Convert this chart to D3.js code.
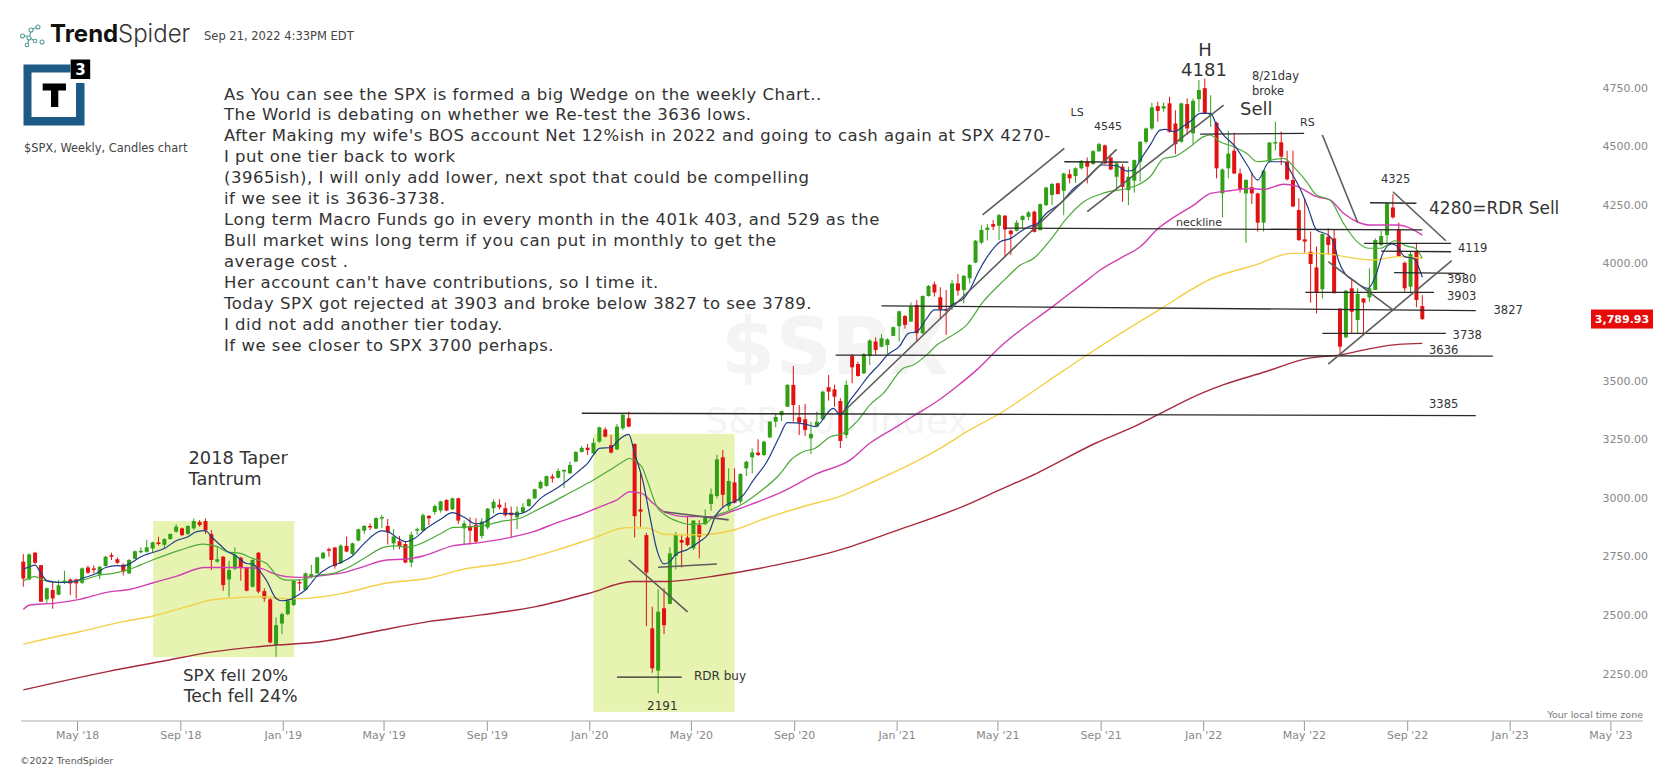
<!DOCTYPE html>
<html><head><meta charset="utf-8">
<script src="https://cdnjs.cloudflare.com/ajax/libs/d3/7.8.5/d3.min.js"></script>
<style>html,body{margin:0;padding:0;background:#fff;overflow:hidden}svg{display:block}text{font-family:"DejaVu Sans",sans-serif}</style>
</head><body><svg id="c" width="1673" height="770"></svg>
<script>
// weekly candles: [open, high, low, close], one row per week, first week 2018-02-26
const candles2018 = [[2755,2787,2648,2683],[2679,2790,2676,2786],[2793,2797,2745,2750],[2740,2740,2584,2584],[2594,2645,2577,2641],[2634,2669,2554,2598],[2614,2676,2612,2654],[2668,2716,2659,2674],[2679,2683,2612,2662],[2679,2683,2597,2662],[2665,2730,2659,2726],[2730,2738,2702,2708],[2726,2739,2705,2722],[2699,2736,2681,2733],[2736,2779,2736,2776],[2783,2793,2762,2776],[2765,2773,2745,2750],[2742,2747,2696,2712],[2705,2766,2701,2762],[2767,2803,2765,2799],[2796,2816,2790,2801],[2797,2847,2793,2816],[2811,2840,2796,2837],[2837,2861,2824,2830],[2827,2856,2811,2851],[2851,2875,2850,2873],[2883,2915,2878,2904],[2897,2900,2864,2868],[2873,2910,2868,2907],[2897,2939,2890,2928],[2924,2932,2904,2911],[2928,2939,2873,2890],[2873,2890,2719,2762],[2755,2819,2750,2765],[2776,2779,2631,2655],[2679,2759,2605,2719],[2725,2816,2719,2783],[2772,2776,2674,2730],[2730,2733,2628,2631],[2648,2765,2645,2762],[2793,2797,2620,2627],[2629,2641,2584,2598],[2594,2602,2406,2410],[2399,2517,2349,2484],[2491,2537,2446,2531]];
const candles2019 = [[2531,2598,2527,2588],[2570,2676,2565,2673],[2668,2680,2630,2664],[2634,2709,2634,2705],[2690,2741,2684,2702],[2705,2776,2702,2773],[2769,2796,2766,2793],[2808,2815,2776,2805],[2815,2818,2725,2736],[2748,2829,2744,2823],[2822,2862,2795,2798],[2788,2836,2783,2833],[2845,2896,2842,2893],[2887,2911,2873,2907],[2907,2918,2890,2901],[2896,2944,2893,2941],[2940,2954,2899,2945],[2907,2937,2828,2879],[2833,2893,2805,2862],[2842,2864,2808,2822],[2830,2839,2748,2751],[2751,2883,2731,2870],[2888,2900,2870,2894],[2887,2961,2884,2953],[2950,2954,2911,2940],[2967,2998,2955,2992],[2973,3015,2964,3012],[3018,3021,2970,2973],[2978,3028,2975,3025],[3025,3028,2916,2930],[2897,2930,2826,2918],[2907,2944,2828,2887],[2911,2940,2833,2840],[2864,2940,2854,2926],[2901,2984,2893,2981],[2983,3021,2961,3010],[2998,3021,2978,2987],[2983,3007,2947,2953],[2964,2990,2859,2953],[2944,2990,2893,2968],[2964,3004,2961,2987],[2992,3025,2990,3021],[3025,3066,3021,3064],[3068,3101,3064,3095],[3078,3122,3075,3120],[3118,3129,3092,3110],[3113,3153,3110,3142],[3140,3149,3069,3146],[3132,3182,3129,3167],[3182,3226,3179,3223],[3223,3248,3220,3240],[3241,3257,3210,3231]];
const candles2020 = [[3217,3281,3214,3262],[3267,3331,3262,3328],[3319,3328,3285,3288],[3252,3295,3217,3220],[3234,3342,3231,3331],[3324,3386,3316,3381],[3367,3395,3328,3331],[3257,3259,2858,2949],[2978,3139,2904,2968],[2868,2878,2480,2708],[2470,2563,2281,2300],[2290,2637,2193,2541],[2556,2641,2446,2484],[2574,2816,2574,2790],[2779,2881,2722,2868],[2847,2868,2730,2836],[2858,2949,2821,2826],[2812,2932,2804,2930],[2911,2932,2769,2861],[2915,2978,2911,2949],[3001,3067,2972,3043],[3035,3210,3025,3191],[3200,3231,2986,3040],[2992,3153,2975,3099],[3093,3153,3003,3006],[3011,3132,3003,3129],[3153,3186,3120,3181],[3200,3238,3131,3221],[3220,3277,3205,3210],[3210,3271,3205,3267],[3285,3355,3281,3352],[3352,3388,3328,3372],[3380,3399,3355,3397],[3416,3512,3415,3509],[3509,3590,3352,3423],[3371,3423,3295,3348],[3362,3428,3291,3317],[3281,3352,3214,3300],[3331,3395,3328,3352],[3362,3485,3359,3480],[3499,3551,3442,3480],[3490,3509,3416,3459],[3440,3452,3239,3270],[3295,3527,3281,3509],[3632,3641,3516,3584],[3598,3608,3544,3547],[3558,3644,3556,3641],[3632,3704,3594,3698],[3694,3712,3637,3658],[3672,3726,3669,3708],[3679,3708,3641,3703],[3718,3758,3718,3755]];
const candles2021 = [[3760,3826,3694,3823],[3803,3807,3749,3765],[3779,3861,3779,3843],[3850,3871,3694,3729],[3729,3891,3726,3888],[3888,3935,3886,3931],[3938,3950,3886,3903],[3883,3925,3793,3829],[3832,3914,3722,3826],[3846,3957,3829,3942],[3942,3982,3890,3911],[3914,3978,3857,3974],[3964,4024,3942,4021],[4031,4127,4028,4124],[4116,4190,4110,4170],[4170,4195,4125,4180],[4195,4212,4169,4184],[4188,4238,4127,4233],[4231,4233,4056,4172],[4167,4172,4063,4152],[4167,4212,4164,4201],[4212,4233,4177,4229],[4226,4250,4212,4245],[4248,4252,4159,4162],[4169,4283,4169,4280],[4276,4354,4272,4351],[4319,4371,4276,4366],[4369,4371,4322,4323],[4337,4414,4233,4411],[4408,4428,4369,4390],[4400,4437,4371,4433],[4433,4468,4428,4465],[4461,4479,4369,4440],[4451,4511,4448,4506],[4506,4542,4502,4536],[4531,4534,4451,4454],[4479,4489,4425,4428],[4397,4461,4347,4454],[4440,4451,4290,4354],[4340,4440,4276,4397],[4380,4471,4329,4468],[4461,4549,4376,4546],[4546,4607,4539,4603],[4603,4713,4596,4693],[4698,4717,4632,4678],[4688,4714,4674,4698],[4710,4738,4585,4589],[4624,4681,4494,4536],[4546,4713,4542,4710],[4707,4731,4575,4603],[4582,4731,4532,4721],[4728,4809,4674,4767]];
const candles2022 = [[4775,4816,4667,4667],[4660,4745,4610,4668],[4627,4632,4390,4433],[4326,4432,4223,4428],[4433,4593,4390,4496],[4508,4585,4408,4411],[4411,4432,4329,4343],[4326,4386,4115,4383],[4352,4415,4281,4326],[4326,4329,4163,4201],[4201,4426,4163,4423],[4462,4545,4457,4543],[4540,4632,4509,4545],[4544,4590,4447,4483],[4462,4508,4381,4386],[4383,4508,4267,4270],[4255,4305,4123,4127],[4130,4305,4073,4120],[4077,4163,3860,4025],[4010,4099,3814,3902],[3917,4155,3878,4153],[4141,4177,4063,4106],[4134,4170,3900,3900],[3835,3835,3636,3672],[3712,3914,3708,3911],[3921,3959,3729,3821],[3786,3921,3729,3897],[3878,3878,3729,3860],[3882,4006,3864,3921],[3914,4134,3914,4127],[4106,4167,4101,4144],[4148,4286,4110,4283],[4266,4323,4218,4224],[4173,4201,4056,4059],[4030,4035,3907,3921],[3928,4077,3900,4067],[4077,4116,3840,3871],[3845,3892,3786,3789.93]];

// moving averages: [week number, price]
const maNavy = [[0,2723],[1,2733],[2,2740],[3,2705],[4,2674],[5,2669],[7,2666],[9,2672],[10,2683],[12.5,2705],[14,2730],[16,2738],[17,2736],[18,2745],[20,2776],[22,2794],[24,2811],[26,2844],[28,2861],[29.5,2883],[31,2887],[32,2861],[33.5,2826],[34.5,2802],[36,2783],[38,2747],[39,2745],[40,2722],[41.5,2669],[43,2598],[44,2588],[45.5,2594],[46.5,2608],[48,2634],[50,2694],[52,2731],[54,2751],[56,2779],[58,2833],[61,2886],[62,2883],[63.5,2859],[65,2840],[66.6,2855],[68.6,2897],[71,2936],[73,2964],[75,2944],[77,2916],[78,2919],[80,2947],[81,2961],[84,2958],[86,2975],[88,3025],[91,3072],[93,3110],[94.7,3146],[96,3174],[97,3210],[98,3238],[100,3242],[101,3267],[102,3288],[103,3298],[104,3217],[105.5,3089],[106.6,2947],[107.8,2804],[109,2745],[110,2755],[111,2786],[113,2807],[115,2840],[116.6,2876],[117.7,2947],[118.8,2982],[120,3003],[121,3011],[122.5,3039],[124.2,3103],[126.5,3181],[128.5,3281],[130,3348],[133,3342],[134.7,3331],[137.8,3409],[139,3381],[140.7,3445],[142,3487],[143.8,3547],[145.8,3601],[147,3637],[149,3672],[150.6,3729],[152,3736],[153.7,3793],[155,3829],[157,3829],[158.2,3854],[160,3878],[161,3914],[162.5,3992],[164,4056],[166.2,4120],[168,4134],[169.6,4162],[171,4184],[172.4,4195],[174,4240],[176.4,4283],[178.7,4347],[181,4390],[183.5,4447],[186,4444],[187.8,4421],[189,4428],[190,4468],[191.7,4532],[193.4,4596],[194.3,4599],[195.7,4589],[197.4,4613],[198.8,4639],[200.2,4667],[202,4667],[203,4617],[204.2,4575],[206.2,4525],[208.2,4447],[210,4383],[212,4461],[214.4,4461],[215.8,4411],[217.2,4347],[218.6,4262],[220,4170],[222,4148],[222.9,4120],[223.7,4042],[224.9,3982],[226.3,3954],[228.8,3921],[230,3971],[231.4,4077],[232.8,4110],[233.7,4101],[235,4056],[236.5,4049],[238,3968]];
const maGreen = [[0,2672],[2,2691],[3.4,2676],[5.7,2666],[10,2676],[13,2698],[15.3,2705],[18,2722],[22,2762],[26.7,2804],[30.6,2830],[33,2819],[34.6,2797],[36.9,2790],[39,2769],[41.4,2747],[43,2698],[44.8,2676],[47,2677],[50.5,2698],[52.8,2705],[55.6,2734],[58.4,2776],[61.3,2816],[63.5,2822],[65.2,2816],[68,2836],[70.9,2873],[73.2,2901],[76.6,2904],[78.8,2911],[81.1,2926],[84.5,2940],[86.8,2968],[90.2,3011],[93,3049],[97,3103],[99.8,3146],[102,3181],[103,3195],[105.2,3160],[106.3,3089],[107.8,2989],[109.2,2954],[111.5,2925],[113.4,2914],[116,2918],[117.4,2947],[119.7,2968],[122.5,3003],[125.3,3053],[128.8,3131],[130.7,3192],[132.7,3224],[134.7,3239],[137.3,3288],[139.5,3303],[141.8,3352],[144,3423],[146.3,3473],[149.7,3580],[151.4,3594],[153.7,3637],[155.4,3679],[157.7,3715],[160.5,3765],[163.3,3864],[167,3959],[169.6,4020],[171.9,4049],[174.7,4127],[177.5,4219],[180.4,4290],[184,4329],[187.8,4347],[189.5,4361],[191.7,4397],[194,4475],[196,4485],[198.5,4525],[200.8,4568],[201.9,4575],[203.6,4546],[205.9,4525],[208.1,4497],[210,4461],[214.4,4475],[216.6,4426],[218.3,4376],[220,4319],[222.3,4298],[224.6,4198],[226.9,4120],[228.8,4092],[230.8,4092],[233.4,4124],[235.4,4101],[236.8,4092],[238,4049]];
const maMagenta = [[0,2551],[1.1,2570],[5.1,2577],[9.6,2594],[14.2,2624],[18.2,2637],[22.1,2665],[26.1,2693],[30.9,2730],[36.3,2730],[40.3,2726],[42.5,2705],[44.8,2691],[47,2688],[50.5,2695],[54.5,2708],[57.9,2734],[61.8,2762],[65.2,2766],[68,2779],[73.2,2823],[77.7,2836],[82.2,2855],[86.8,2883],[91.3,2926],[94.7,2954],[98.1,2989],[101,3018],[103.2,3053],[105.2,3046],[107.2,3003],[109.2,2965],[112.9,2947],[117.4,2947],[120.8,2972],[124.2,3003],[128.8,3049],[135,3130],[140.7,3189],[144,3260],[148.6,3331],[152,3385],[155.4,3438],[158.8,3502],[162.2,3573],[166.2,3672],[175.1,3843],[181,3956],[183.2,3999],[186.6,4049],[190,4098],[193.1,4177],[196.3,4233],[199.1,4276],[202,4326],[205.3,4337],[208.7,4347],[211,4343],[214.4,4365],[216.6,4357],[220,4312],[222.3,4298],[224.6,4241],[226.9,4205],[229.1,4191],[233.7,4191],[236,4177],[238,4148]];
const maYellow = [[0,2403],[3.4,2423],[9.6,2456],[17,2499],[22.1,2523],[27.8,2563],[31.8,2591],[36.3,2601],[40.5,2605],[44.8,2597],[47,2597],[54.4,2620],[61.6,2663],[68.9,2684],[74.4,2720],[83.5,2755],[90.8,2805],[97,2855],[102.6,2900],[106.3,2898],[109,2872],[114.5,2869],[120.9,2890],[126.3,2940],[132.7,2990],[138.9,3033],[145,3100],[152.6,3192],[156.5,3246],[161,3317],[166.2,3388],[173.8,3516],[181.4,3644],[193.2,3829],[202.3,3964],[209.5,4020],[215.8,4070],[220.3,4070],[229.4,4042],[233.9,4056],[238,4049]];
const maRed = [[0,2208],[14.3,2286],[23.4,2329],[32.5,2371],[41.6,2396],[50.8,2414],[59.8,2457],[68.9,2499],[78,2528],[87.2,2563],[96.3,2620],[103.6,2670],[109,2670],[118.2,2696],[128.2,2741],[138.9,2805],[148,2883],[159.8,2990],[166.1,3061],[172.4,3132],[182.4,3260],[189.6,3338],[193.2,3384],[200.4,3473],[204.1,3509],[211.3,3565],[218.5,3622],[224,3637],[229.4,3665],[233.9,3682],[238,3686]];

// drawn levels and trendlines: [week, price, week, price]
const levelLines = [[146,3846,247.1,3826],[138.2,3636,250,3632],[167,4178,238,4170],[177.1,4461,188,4459],[200.2,4579,217.9,4582],[229.1,4286,237,4284],[228.1,4113,242.9,4113],[231,4080,242.9,4077],[233.2,3988,245.2,3985],[218.1,3904,240,3904],[221,3729,242,3729],[95,3388,247.1,3378],[101,2262,112,2262]];
const trendLines = [[163.2,4234,177.1,4518],[139.3,3389,186,4514],[181,4248,204.2,4703],[221,4575,227,4203],[233,4333,242,4124],[222,4035,233,3829],[222,3598,243,4039],[103,2762,113,2541],[108,2731,118,2745],[109,2968,120,2933]];
// shaded zones: [week from, week to, price top, price bottom]
const zones = [[22.1,46.1,2928,2348],[97,121,3300,2114]];

const priceTicks = [4750,4500,4250,4000,3500,3250,3000,2750,2500,2250];
const monthTicks = ["2018-05-01","2018-09-01","2019-01-01","2019-05-01","2019-09-01","2020-01-01","2020-05-01","2020-09-01","2021-01-01","2021-05-01","2021-09-01","2022-01-01","2022-05-01","2022-09-01","2023-01-01","2023-05-01"];
const lastPrice = 3789.93;
const paragraph = ["As You can see the SPX is formed a big Wedge on the weekly Chart..","The World is debating on whether we Re-test the 3636 lows.","After Making my wife's BOS account Net 12%ish in 2022 and going to cash again at SPX 4270-","I put one tier back to work","(3965ish), I will only add lower, next spot that could be compelling","if we see it is 3636-3738.","Long term Macro Funds go in every month in the 401k 403, and 529 as the","Bull market wins long term if you can put in monthly to get the","average cost .","Her account can't have contributions, so I time it.","Today SPX got rejected at 3903 and broke below 3827 to see 3789.","I did not add another tier today.","If we see closer to SPX 3700 perhaps."];

const candles = [...candles2018,...candles2019,...candles2020,...candles2021,...candles2022];
const parse = d3.utcParse("%Y-%m-%d");
const firstWeek = parse("2018-02-26");
const weekDate = i => new Date(+firstWeek + i*7*864e5);
const x = d3.scaleUtc().domain([firstWeek, weekDate(238)]).range([23.3,1422.3]);
const y = d3.scaleLinear().domain([2250,4750]).range([680,94]);
const X = i => x(weekDate(i));

const svg = d3.select("#c");
const note = (t,px,py,size,fill="#333",anchor="start",extra={})=>{
  const n = svg.append("text").attr("x",px).attr("y",py).attr("dominant-baseline","middle").attr("text-anchor",anchor).attr("font-size",size).attr("fill",fill).text(t);
  Object.entries(extra).forEach(([k,v])=>n.attr(k,v)); return n;
};

// zones
svg.append("g").selectAll("rect").data(zones).join("rect")
  .attr("x",d=>X(d[0])).attr("width",d=>X(d[1])-X(d[0])).attr("y",d=>y(d[2])).attr("height",d=>y(d[3])-y(d[2])).attr("fill","#e6f3b1");

// watermark
note("$SPX",835,353,78,"#f4f4f4","middle",{"font-weight":"bold"});
note("S&P 500 Index",837,423,36,"#f4f4f4","middle");

const seg = (g,data,col,w)=>g.selectAll("line").data(data).join("line").attr("x1",d=>X(d[0])).attr("y1",d=>y(d[1])).attr("x2",d=>X(d[2])).attr("y2",d=>y(d[3])).attr("stroke",col).attr("stroke-width",w);

// candles
const cg = svg.append("g");
const col = d=>d[3]>=d[0]?"#31a014":"#e31212";
cg.selectAll("line").data(candles).join("line").attr("x1",(d,i)=>X(i)).attr("x2",(d,i)=>X(i)).attr("y1",d=>y(d[1])).attr("y2",d=>y(d[2])).attr("stroke",col).attr("stroke-width",1);
cg.selectAll("rect").data(candles).join("rect").attr("x",(d,i)=>X(i)-2).attr("width",4).attr("y",d=>y(Math.max(d[0],d[3]))).attr("height",d=>Math.max(1.5,Math.abs(y(d[0])-y(d[3])))).attr("fill",col);

// moving averages
const line = d3.line().x(d=>X(d[0])).y(d=>y(d[1])).curve(d3.curveMonotoneX);
[[maRed,"#a62a3c",1.4],[maYellow,"#f5cf48",1.4],[maMagenta,"#d23fb4",1.4],[maGreen,"#4cab38",1.2],[maNavy,"#1f3c88",1.2]].forEach(([s,c,w])=>{
  svg.append("path").attr("d",line(s)).attr("fill","none").attr("stroke",c).attr("stroke-width",w);
});

seg(svg.append("g"),levelLines,"#2a2a2a",1.3);
seg(svg.append("g"),trendLines,"#5c5c5c",1.6);

// axes
const yAxis = d3.axisRight(y).tickValues(priceTicks).tickFormat(d3.format(".2f")).tickSize(0);
const ya = svg.append("g").attr("transform","translate(1602.5,0)").call(yAxis);
ya.select(".domain").remove();
ya.selectAll("text").attr("x",0).attr("dy",0).attr("y",-6).attr("dominant-baseline","middle").attr("font-size",11).attr("fill","#888").style("font-family",'"DejaVu Sans"');

const xAxis = d3.axisBottom(x).tickValues(monthTicks.map(parse)).tickFormat(d3.utcFormat("%b '%y")).tickSize(10);
const xa = svg.append("g").attr("transform","translate(0,721)").call(xAxis);
xa.select(".domain").remove();
xa.selectAll("line").attr("stroke","#999");
xa.selectAll("text").attr("font-size",11).attr("fill","#888").attr("y",15).attr("dy",0).attr("dominant-baseline","middle").style("font-family",'"DejaVu Sans"');
svg.append("line").attr("x1",21).attr("x2",1643).attr("y1",721).attr("y2",721).attr("stroke","#aaa");

// last price
svg.append("rect").attr("x",1591).attr("y",y(lastPrice)-9.5).attr("width",62).attr("height",19).attr("fill","#e60c0c");
note(d3.format(",.2f")(lastPrice),1622,y(lastPrice)+0.5,11,"#fff","middle",{"font-weight":"bold"});

// paragraph
paragraph.forEach((t,i)=>note(t,224,95+i*20.97,16.5,"#333","start",{"letter-spacing":"0.5"}));

// annotations
note("H",1205,51,18,"#333","middle");
note("4181",1204,71,18,"#333","middle");
note("8/21day",1252,76,11.5);note("broke",1252,91,11.5);
note("Sell",1240,110,18);
note("LS",1070.6,113,11);note("4545",1094,127,11);note("RS",1300,123,11);
note("4325",1381,179,11.5);
note("4280=RDR Sell",1429,209,17);
note("4119",1458,248,11.5);note("3980",1447,279,11.5);note("3903",1447,296,11.5);note("3827",1493.5,310,11.5);note("3738",1452.6,335,11.5);note("3636",1429,350,11.5);note("3385",1429,404,11.5);
note("neckline",1176,223,11);
note("2018 Taper",188.5,459,17.8);note("Tantrum",188.5,480,17.8);
note("SPX fell 20%",183,676,16.7);note("Tech fell 24%",183.7,697,17.2);
note("RDR buy",694,676,12);note("2191",647,706,12);

// header
note("Trend",50,35,24,"#111","start",{"font-weight":"bold"}).style("font-family","Inter");
note("Spider",118,35,24,"#333","start",{"font-weight":"300"}).style("font-family","Inter");
note("Sep 21, 2022 4:33PM EDT",204,36,11.5,"#444");
note("$SPX, Weekly, Candles chart",24,148,11.4,"#444");
note("Your local time zone",1643,715,9.5,"#777","end");
note("©2022 TrendSpider",20,761,9.5,"#555");

// spider mark
const sp = svg.append("g").attr("fill","none").attr("stroke","#5a9f9b").attr("stroke-width",1.1);
[[22.5,36,2],[31,30,2],[38,27,2],[29,38,2],[35,41,1.8],[42,42,2],[27,45,1.8]].forEach(c=>sp.append("circle").attr("cx",c[0]).attr("cy",c[1]).attr("r",c[2]));
sp.append("path").attr("d","M24.5 36H28M31 32L29.5 36M29 40L27.5 43.5M31 38.5L33.5 40M32.5 29L36.5 27.5");

// T3 logo
const lg = svg.append("g");
lg.append("path").attr("fill","#1d5b86").attr("d","M23.5 64.5H70.5V72.5H31.5V117H76V83H84.5V125.5H23.5Z");
lg.append("rect").attr("x",70.7).attr("y",59.5).attr("width",19.5).attr("height",19.5).attr("fill","#000");
note("3",80.5,70,15,"#fff","middle",{"font-weight":"bold"});
lg.append("path").attr("fill","#000").attr("d","M42.7 83.5H66V90.5H58.3V107H51V90.5H42.7Z");
</script></body></html>
